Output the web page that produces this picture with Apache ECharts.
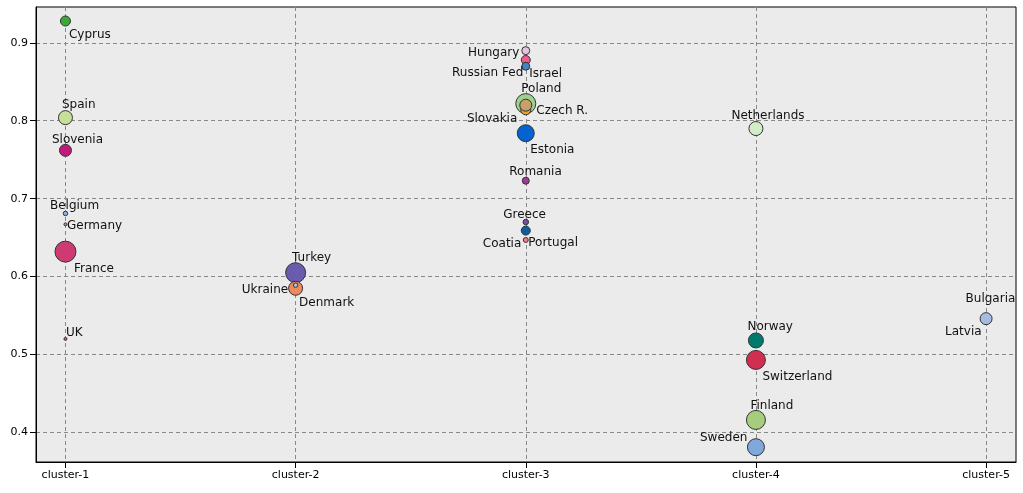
<!DOCTYPE html>
<html>
<head>
<meta charset="utf-8">
<script src="https://cdn.jsdelivr.net/npm/echarts@6/dist/echarts.min.js"></script>
<style>
  html, body { margin: 0; padding: 0; background: #fff; }
  #scatter { width: 1023px; height: 493px; }
</style>
</head>
<body>
<div id="scatter"></div>
<script>
var chart = echarts.init(document.getElementById('scatter'), null, {renderer: 'canvas'});

// data
var clusterNames = ['cluster-1', 'cluster-2', 'cluster-3', 'cluster-4', 'cluster-5'];
var countries = ['France', 'Spain', 'Slovenia', 'Cyprus', 'Belgium', 'Germany', 'UK',
                 'Turkey', 'Denmark', 'Ukraine',
                 'Poland', 'Estonia', 'Slovakia', 'Czech R.', 'Portugal', 'Russian Fed', 'Hungary', 'Israel',
                 'Romania', 'Greece', 'Coatia',
                 'Switzerland', 'Finland', 'Sweden', 'Norway', 'Netherlands',
                 'Bulgaria', 'Latvia'];
var clusterOf = [1, 1, 1, 1, 1, 1, 1,
                 2, 2, 2,
                 3, 3, 3, 3, 3, 3, 3, 3, 3, 3, 3,
                 4, 4, 4, 4, 4,
                 5, 5];
var scores = [0.632, 0.804, 0.762, 0.928, 0.681, 0.667, 0.520,
              0.605, 0.585, 0.589,
              0.822, 0.784, 0.814, 0.820, 0.659, 0.878, 0.890, 0.870, 0.723, 0.670, 0.647,
              0.493, 0.416, 0.381, 0.518, 0.790,
              0.548, 0.546];
var bubbleSize = [21, 14, 12, 10, 4.5, 3, 3,
                  20, 14, 4.5,
                  20, 17, 10, 12, 9, 9, 8, 8, 7, 5.5, 5,
                  19, 19, 17, 15, 14,
                  3, 12];

// look of each point
var colors = {
  'France': '#cf3a73', 'Spain': '#c6e09c', 'Slovenia': '#c21a7a', 'Cyprus': '#3aa935',
  'Belgium': '#8eb4dc', 'Germany': '#8aa0b8', 'UK': '#c06080',
  'Turkey': '#6a5cad', 'Denmark': '#ef8a5f', 'Ukraine': '#a8c0d8',
  'Poland': '#a0d090', 'Estonia': '#0662d0', 'Slovakia': '#e8a030', 'Czech R.': '#c8a06a',
  'Portugal': '#0d5e9e', 'Russian Fed': '#f05a8c', 'Hungary': '#e3c4e5', 'Israel': '#3f86c6',
  'Romania': '#9d3a9a', 'Greece': '#7a4e9e', 'Coatia': '#f08090',
  'Switzerland': '#d22e50', 'Finland': '#a6cc7e', 'Sweden': '#7fa8dc', 'Norway': '#007a6c',
  'Netherlands': '#d3ecc8', 'Bulgaria': '#c8c8d8', 'Latvia': '#a7bbde'
};
// label anchor relative to point centre: [dx, dy, align]
var labelAt = {
  'France': [9, 16, 'left'], 'Spain': [-3, -14, 'left'], 'Slovenia': [-13, -12, 'left'],
  'Cyprus': [4, 12, 'left'], 'Belgium': [-15, -9, 'left'], 'Germany': [2, 0, 'left'],
  'UK': [1, -8, 'left'],
  'Turkey': [-3, -16, 'left'], 'Denmark': [4, 13, 'left'], 'Ukraine': [-7, 3, 'right'],
  'Poland': [-4, -16, 'left'], 'Estonia': [5, 15, 'left'], 'Slovakia': [-8, 8, 'right'],
  'Czech R.': [11, 4, 'left'], 'Portugal': [3, 11, 'left'], 'Russian Fed': [-2, 11, 'right'],
  'Hungary': [-6, 1, 'right'], 'Israel': [4, 6, 'left'], 'Romania': [-16, -10, 'left'],
  'Greece': [-22, -9, 'left'], 'Coatia': [-4, 2, 'right'],
  'Switzerland': [7, 15, 'left'], 'Finland': [-5, -16, 'left'], 'Sweden': [-8, -11, 'right'],
  'Norway': [-8, -15, 'left'], 'Netherlands': [-24, -14, 'left'],
  'Bulgaria': [-20, -20, 'left'], 'Latvia': [-4, 12, 'right']
};

var points = countries.map(function (name, i) {
  var lab = labelAt[name];
  var half = bubbleSize[i] / 2;
  return {
    name: name,
    value: [clusterOf[i], scores[i]],
    symbolSize: bubbleSize[i],
    itemStyle: {color: colors[name]},
    label: {position: [half + lab[0], half + lab[1] + 2], align: lab[2], verticalAlign: 'middle'}
  };
});

var dashed = {show: true, lineStyle: {color: '#888', type: [4, 3], width: 1}};

chart.setOption({
  animation: false,
  backgroundColor: '#fff',
  textStyle: {fontFamily: 'DejaVu Sans'},
  grid: {
    left: 36, right: 7, top: 7, bottom: 31,
    show: true, backgroundColor: '#ebebeb', borderColor: '#000', borderWidth: 1,
    containLabel: false
  },
  xAxis: {
    type: 'value',
    min: 0.872, max: 5.13,
    axisLine: {show: true, lineStyle: {color: '#000'}},
    axisTick: {show: true, length: 6, lineStyle: {color: '#000'}, customValues: [1, 2, 3, 4, 5]},
    axisLabel: {
      color: '#000', fontSize: 11, margin: 8, fontFamily: 'DejaVu Sans',
      customValues: [1, 2, 3, 4, 5],
      formatter: function (v) {
        return Math.abs(v - Math.round(v)) < 1e-6 ? clusterNames[Math.round(v) - 1] : '';
      }
    },
    splitLine: dashed
  },
  yAxis: {
    type: 'value',
    min: 0.362, max: 0.946,
    axisLine: {show: true, lineStyle: {color: '#000'}},
    axisTick: {show: true, length: 6, lineStyle: {color: '#000'}, customValues: [0.4, 0.5, 0.6, 0.7, 0.8, 0.9]},
    axisLabel: {
      color: '#000', fontSize: 11, margin: 8, fontFamily: 'DejaVu Sans',
      customValues: [0.4, 0.5, 0.6, 0.7, 0.8, 0.9],
      formatter: function (v) {
        return Math.abs(v * 10 - Math.round(v * 10)) < 1e-6 ? v.toFixed(1) : '';
      }
    },
    splitLine: dashed
  },
  series: [{
    type: 'scatter',
    data: points,
    itemStyle: {borderColor: '#333', borderWidth: 1, opacity: 1},
    label: {
      show: true,
      formatter: '{b}',
      color: '#111',
      fontSize: 12,
      fontFamily: 'DejaVu Sans'
    },
    labelLayout: {hideOverlap: false},
    emphasis: {disabled: true}
  }]
});
</script>
</body>
</html>
